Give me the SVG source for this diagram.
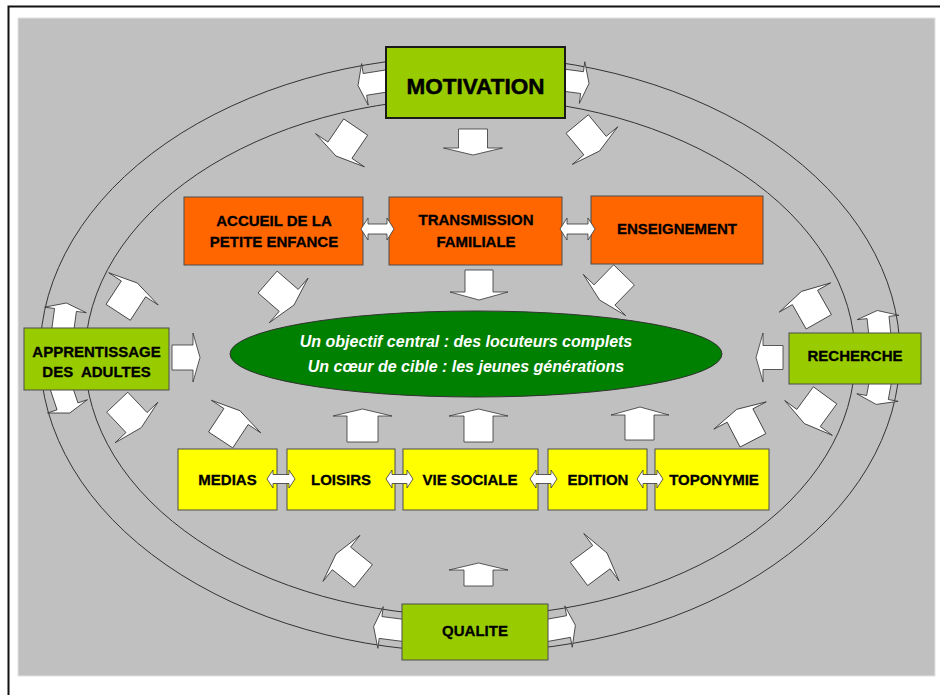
<svg xmlns="http://www.w3.org/2000/svg" xmlns:xlink="http://www.w3.org/1999/xlink" width="940" height="695" viewBox="0 0 940 695">
<style>
.lbl{font-family:"Liberation Sans",Arial,sans-serif;font-weight:bold;font-size:15px;fill:#000;stroke:#000;stroke-width:0.3;text-anchor:middle}
.big{font-size:22.5px;stroke-width:0.5}
.ctr{font-family:"Liberation Sans",Arial,sans-serif;font-weight:bold;font-style:italic;font-size:16px;fill:#fff;text-anchor:middle}
.orange{fill:#ff6600;stroke:#4d4d4d;stroke-width:1}
.yellow{fill:#ffff00;stroke:#4d4d4d;stroke-width:1}
.green{fill:#99cc00;stroke:#4d4d4d;stroke-width:1}
.arr{fill:#fff;stroke:#333;stroke-width:0.8;stroke-linejoin:miter}
.ring{fill:none;stroke:#333;stroke-width:1}
</style>
<defs>
<path id="ad" d="M0,0 L-7,-29.5 L-7,-14.5 L-35,-14.5 L-35,14.5 L-7,14.5 L-7,29.5 Z"/>
<path id="ar" d="M0,0 L-7,-21 L-7,-11 L-34,-11 L-34,11 L-7,11 L-7,21 Z"/>
</defs>
<rect x="0" y="0" width="940" height="695" fill="#fff"/>
<path d="M8.5,695 V6.5 H940" fill="none" stroke="#111" stroke-width="2"/>
<rect x="18" y="18" width="917" height="658" fill="#c0c0c0" stroke="#e2e2e2" stroke-width="1"/>
<g id="connectors">
<ellipse class="ring" cx="470" cy="354" rx="430" ry="298"/>
<ellipse class="ring" cx="470" cy="357" rx="385" ry="259"/>
<use class="arr" href="#ar" transform="translate(358,85.5) rotate(171)"/>
<use class="arr" href="#ar" transform="translate(589,83.5) rotate(7.5)"/>
<use class="arr" href="#ar" transform="translate(66.4,303) rotate(-82.4)"/>
<use class="arr" href="#ar" transform="translate(69.7,413) rotate(71.6)"/>
<use class="arr" href="#ar" transform="translate(877.3,310.5) rotate(-96)"/>
<use class="arr" href="#ar" transform="translate(876.2,404.4) rotate(100.4)"/>
<use class="arr" href="#ar" transform="translate(373.6,626.6) rotate(187.3)"/>
<use class="arr" href="#ar" transform="translate(575.4,625.3) rotate(-10.2)"/>
<use class="arr" href="#ad" transform="translate(336,156) rotate(124.2)"/>
<use class="arr" href="#ad" transform="translate(599.5,151) rotate(50.4)"/>
<use class="arr" href="#ad" transform="translate(294,305) rotate(41)"/>
<use class="arr" href="#ad" transform="translate(599.6,300) rotate(134.2)"/>
<use class="arr" href="#ad" transform="translate(137.3,283) rotate(-56.9)"/>
<use class="arr" href="#ad" transform="translate(141.3,427.6) rotate(46.6)"/>
<use class="arr" href="#ad" transform="translate(801.5,291.4) rotate(-119.6)"/>
<use class="arr" href="#ad" transform="translate(804.4,423.6) rotate(126.2)"/>
<use class="arr" href="#ad" transform="translate(736.8,409.3) rotate(-117.5)"/>
<use class="arr" href="#ad" transform="translate(239.9,410.7) rotate(-56.6)"/>
<use class="arr" href="#ad" transform="translate(336,554) rotate(-141.2)"/>
<use class="arr" href="#ad" transform="translate(607,553) rotate(-36.7)"/>
<path class="arr" d="M473,155 L443.5,148 L458.5,148 L458.5,129 L487.5,129 L487.5,148 L502.5,148 Z"/>
<path class="arr" d="M479,300 L450,292 L465,292 L465,270 L493,270 L493,292 L508,292 Z"/>
<path class="arr" d="M200,357.5 L193,333 L193,345 L172,345 L172,370 L193,370 L193,382 Z"/>
<path class="arr" d="M756,357.5 L763,333 L763,345.5 L783,345.5 L783,369.5 L763,369.5 L763,382 Z"/>
<path class="arr" d="M362.5,409 L392,416 L378,416 L378,442 L347,442 L347,416 L333,416 Z"/>
<path class="arr" d="M478.5,409 L508,416 L493,416 L493,442 L464,442 L464,416 L449,416 Z"/>
<path class="arr" d="M640,407 L669,415 L654,415 L654,440 L625,440 L625,415 L611,415 Z"/>
<path class="arr" d="M478.5,563 L508,570 L493,570 L493,586 L464,586 L464,570 L449,570 Z"/>
</g>
<g id="center">
<ellipse cx="476" cy="354" rx="246" ry="43" fill="#008000" stroke="#333" stroke-width="1"/>
<text class="ctr" x="466" y="347">Un objectif central : des locuteurs complets</text>
<text class="ctr" x="466" y="372">Un cœur de cible : les jeunes générations</text>
</g>
<g id="motivation">
<rect x="386" y="47" width="179" height="71" fill="#99cc00" stroke="#1a1a1a" stroke-width="2"/>
<text class="lbl big" x="475.5" y="94">MOTIVATION</text>
</g>
<g id="accueil">
<rect class="orange" x="184" y="197" width="179" height="68"/>
<text class="lbl" x="274" y="226">ACCUEIL DE LA</text>
<text class="lbl" x="274" y="247">PETITE ENFANCE</text>
</g>
<g id="transmission">
<rect class="orange" x="389" y="197" width="173" height="68"/>
<text class="lbl" x="476" y="225">TRANSMISSION</text>
<text class="lbl" x="476" y="247">FAMILIALE</text>
</g>
<g id="enseignement">
<rect class="orange" x="591" y="196" width="172" height="68"/>
<text class="lbl" x="677" y="234">ENSEIGNEMENT</text>
</g>
<g id="apprentissage">
<rect class="green" x="24" y="328" width="145" height="62"/>
<text class="lbl" x="96.5" y="357">APPRENTISSAGE</text>
<text class="lbl" x="96.5" y="377" style="white-space:pre">DES  ADULTES</text>
</g>
<g id="recherche">
<rect class="green" x="789" y="333" width="132" height="51"/>
<text class="lbl" x="855" y="361">RECHERCHE</text>
</g>
<g id="qualite">
<rect class="green" x="402" y="604" width="146" height="56"/>
<text class="lbl" x="475" y="636">QUALITE</text>
</g>
<g id="medias">
<rect class="yellow" x="178" y="449" width="99" height="61"/>
<text class="lbl" x="227.5" y="485">MEDIAS</text>
</g>
<g id="loisirs">
<rect class="yellow" x="287" y="449" width="108" height="61"/>
<text class="lbl" x="341" y="485">LOISIRS</text>
</g>
<g id="vie-sociale">
<rect class="yellow" x="403" y="449" width="135" height="61"/>
<text class="lbl" x="470" y="485">VIE SOCIALE</text>
</g>
<g id="edition">
<rect class="yellow" x="548" y="449" width="99" height="61"/>
<text class="lbl" x="598" y="485">EDITION</text>
</g>
<g id="toponymie">
<rect class="yellow" x="655" y="449" width="114" height="61"/>
<text class="lbl" x="714" y="485">TOPONYMIE</text>
</g>
<g id="links">
<path class="arr" d="M361,229 L368,218 L368,224 L387,224 L387,218 L394,229 L387,240 L387,234 L368,234 L368,240 Z"/>
<path class="arr" d="M560,229 L567,218 L567,224 L588,224 L588,218 L595,229 L588,240 L588,234 L567,234 L567,240 Z"/>
<path class="arr" d="M267,479 L273,470 L273,474.5 L289,474.5 L289,470 L295,479 L289,488 L289,483.5 L273,483.5 L273,488 Z"/>
<path class="arr" d="M386,479 L392,470 L392,474.5 L407,474.5 L407,470 L413,479 L407,488 L407,483.5 L392,483.5 L392,488 Z"/>
<path class="arr" d="M530,479 L536,470 L536,474.5 L551,474.5 L551,470 L557,479 L551,488 L551,483.5 L536,483.5 L536,488 Z"/>
<path class="arr" d="M637,479 L643,470 L643,474.5 L657,474.5 L657,470 L663,479 L657,488 L657,483.5 L643,483.5 L643,488 Z"/>
</g>
</svg>
